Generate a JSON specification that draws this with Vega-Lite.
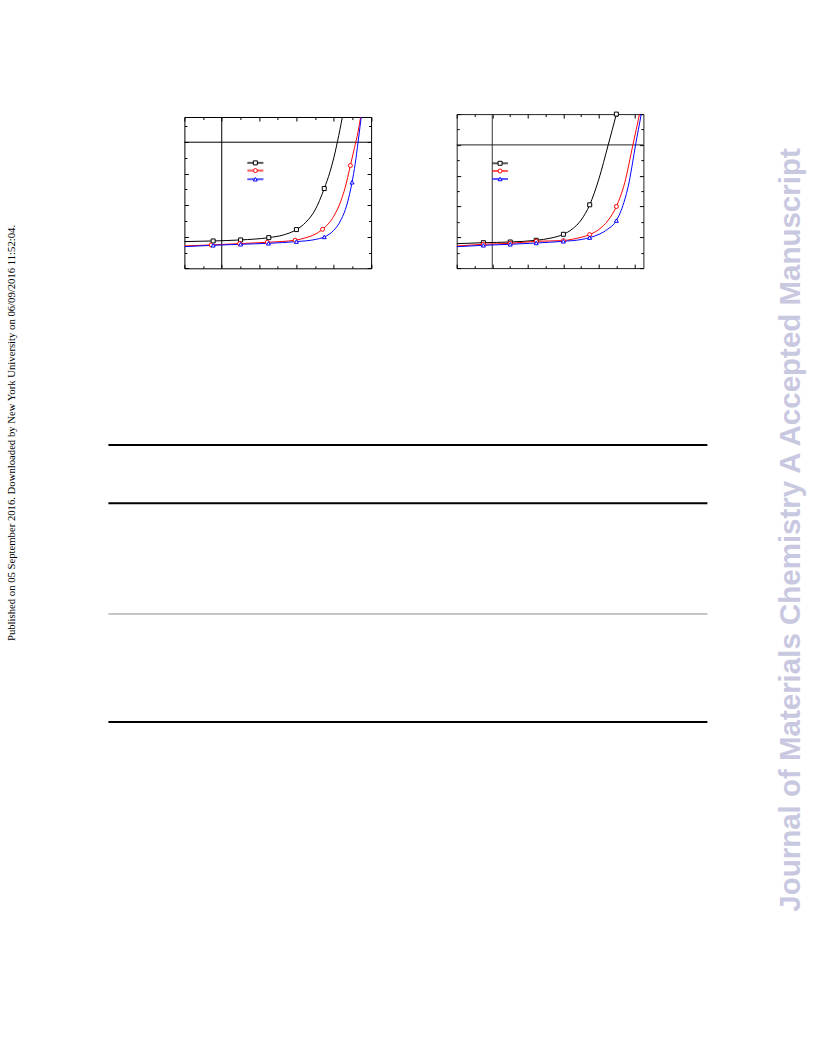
{
  "$schema": "https://vega.github.io/schema/vega-lite/v6.json",
  "background": "white",
  "padding": {"left": 0, "top": 109.1, "right": 0, "bottom": 0},
  "config": {"view": {"stroke": null}},
  "datasets": {
    "p1_curves": [
      {"series": "a", "v": -0.2, "j": -12.61}, {"series": "a", "v": -0.046, "j": -12.53}, {"series": "a", "v": 0.101, "j": -12.40}, {"series": "a", "v": 0.252, "j": -12.11}, {"series": "a", "v": 0.33, "j": -11.77}, {"series": "a", "v": 0.4, "j": -11.09}, {"series": "a", "v": 0.45, "j": -10.17}, {"series": "a", "v": 0.5, "j": -8.6}, {"series": "a", "v": 0.549, "j": -5.88}, {"series": "a", "v": 0.58, "j": -3.74}, {"series": "a", "v": 0.6, "j": -2.0}, {"series": "a", "v": 0.62, "j": 0.1}, {"series": "a", "v": 0.646, "j": 3.2}, {"series": "a", "v": 0.66, "j": 5.1},
      {"series": "b", "v": -0.2, "j": -13.16}, {"series": "b", "v": -0.057, "j": -13.04}, {"series": "b", "v": 0.096, "j": -12.87}, {"series": "b", "v": 0.244, "j": -12.70}, {"series": "b", "v": 0.393, "j": -12.44}, {"series": "b", "v": 0.45, "j": -12.12}, {"series": "b", "v": 0.5, "j": -11.68}, {"series": "b", "v": 0.54, "j": -11.05}, {"series": "b", "v": 0.6, "j": -9.39}, {"series": "b", "v": 0.64, "j": -7.34}, {"series": "b", "v": 0.66, "j": -5.85}, {"series": "b", "v": 0.689, "j": -2.96}, {"series": "b", "v": 0.71, "j": -0.8}, {"series": "b", "v": 0.73, "j": 1.3}, {"series": "b", "v": 0.744, "j": 3.2}, {"series": "b", "v": 0.76, "j": 5.6},
      {"series": "c", "v": -0.2, "j": -13.25}, {"series": "c", "v": -0.046, "j": -13.08}, {"series": "c", "v": 0.101, "j": -12.95}, {"series": "c", "v": 0.25, "j": -12.83}, {"series": "c", "v": 0.4, "j": -12.61}, {"series": "c", "v": 0.5, "j": -12.35}, {"series": "c", "v": 0.549, "j": -12.02}, {"series": "c", "v": 0.6, "j": -11.18}, {"series": "c", "v": 0.64, "j": -9.8}, {"series": "c", "v": 0.67, "j": -7.96}, {"series": "c", "v": 0.698, "j": -5.08}, {"series": "c", "v": 0.715, "j": -2.7}, {"series": "c", "v": 0.73, "j": 0.0}, {"series": "c", "v": 0.74, "j": 1.85}, {"series": "c", "v": 0.75, "j": 3.75}, {"series": "c", "v": 0.77, "j": 7.7}
    ],
    "p1_markers": [
      {"series": "a", "v": -0.046, "j": -12.53}, {"series": "a", "v": 0.101, "j": -12.40}, {"series": "a", "v": 0.252, "j": -12.11}, {"series": "a", "v": 0.4, "j": -11.09}, {"series": "a", "v": 0.549, "j": -5.88},
      {"series": "b", "v": -0.057, "j": -13.04}, {"series": "b", "v": 0.096, "j": -12.87}, {"series": "b", "v": 0.244, "j": -12.70}, {"series": "b", "v": 0.393, "j": -12.44}, {"series": "b", "v": 0.54, "j": -11.05}, {"series": "b", "v": 0.689, "j": -2.96},
      {"series": "c", "v": -0.046, "j": -13.08}, {"series": "c", "v": 0.101, "j": -12.95}, {"series": "c", "v": 0.25, "j": -12.83}, {"series": "c", "v": 0.4, "j": -12.61}, {"series": "c", "v": 0.549, "j": -12.02}, {"series": "c", "v": 0.698, "j": -5.08}
    ],
    "p1_legend_lines": [
      {"series": "a", "v": 0.137, "j": -2.62}, {"series": "a", "v": 0.223, "j": -2.62},
      {"series": "b", "v": 0.137, "j": -3.60}, {"series": "b", "v": 0.223, "j": -3.60},
      {"series": "c", "v": 0.137, "j": -4.70}, {"series": "c", "v": 0.223, "j": -4.70}
    ],
    "p1_legend_marks": [
      {"series": "a", "v": 0.18, "j": -2.62}, {"series": "b", "v": 0.18, "j": -3.60}, {"series": "c", "v": 0.18, "j": -4.70}
    ],
    "p2_curves": [
      {"series": "a", "v": -0.2, "j": -12.83}, {"series": "a", "v": -0.05, "j": -12.70}, {"series": "a", "v": 0.101, "j": -12.61}, {"series": "a", "v": 0.247, "j": -12.39}, {"series": "a", "v": 0.33, "j": -12.1}, {"series": "a", "v": 0.4, "j": -11.61}, {"series": "a", "v": 0.45, "j": -10.93}, {"series": "a", "v": 0.5, "j": -9.75}, {"series": "a", "v": 0.548, "j": -7.78}, {"series": "a", "v": 0.6, "j": -4.4}, {"series": "a", "v": 0.652, "j": 0.0}, {"series": "a", "v": 0.698, "j": 4.0}, {"series": "a", "v": 0.718, "j": 5.8},
      {"series": "b", "v": -0.2, "j": -13.13}, {"series": "b", "v": -0.05, "j": -12.91}, {"series": "b", "v": 0.101, "j": -12.78}, {"series": "b", "v": 0.247, "j": -12.52}, {"series": "b", "v": 0.4, "j": -12.43}, {"series": "b", "v": 0.45, "j": -12.25}, {"series": "b", "v": 0.5, "j": -12.0}, {"series": "b", "v": 0.548, "j": -11.65}, {"series": "b", "v": 0.6, "j": -10.98}, {"series": "b", "v": 0.65, "j": -9.85}, {"series": "b", "v": 0.698, "j": -8.0}, {"series": "b", "v": 0.745, "j": -4.9}, {"series": "b", "v": 0.791, "j": 0.0}, {"series": "b", "v": 0.828, "j": 4.0}, {"series": "b", "v": 0.85, "j": 6.5},
      {"series": "c", "v": -0.2, "j": -13.22}, {"series": "c", "v": -0.05, "j": -13.04}, {"series": "c", "v": 0.101, "j": -12.91}, {"series": "c", "v": 0.247, "j": -12.74}, {"series": "c", "v": 0.4, "j": -12.52}, {"series": "c", "v": 0.5, "j": -12.29}, {"series": "c", "v": 0.548, "j": -12.04}, {"series": "c", "v": 0.6, "j": -11.62}, {"series": "c", "v": 0.65, "j": -10.93}, {"series": "c", "v": 0.698, "j": -9.83}, {"series": "c", "v": 0.74, "j": -7.5}, {"series": "c", "v": 0.77, "j": -4.8}, {"series": "c", "v": 0.79, "j": -2.2}, {"series": "c", "v": 0.806, "j": 0.0}, {"series": "c", "v": 0.838, "j": 4.0}, {"series": "c", "v": 0.86, "j": 6.9}
    ],
    "p2_markers": [
      {"series": "a", "v": -0.05, "j": -12.70}, {"series": "a", "v": 0.101, "j": -12.61}, {"series": "a", "v": 0.247, "j": -12.39}, {"series": "a", "v": 0.4, "j": -11.61}, {"series": "a", "v": 0.548, "j": -7.78}, {"series": "a", "v": 0.698, "j": 4.0},
      {"series": "b", "v": -0.05, "j": -12.91}, {"series": "b", "v": 0.101, "j": -12.78}, {"series": "b", "v": 0.247, "j": -12.52}, {"series": "b", "v": 0.4, "j": -12.43}, {"series": "b", "v": 0.548, "j": -11.65}, {"series": "b", "v": 0.698, "j": -8.0},
      {"series": "c", "v": -0.05, "j": -13.04}, {"series": "c", "v": 0.101, "j": -12.91}, {"series": "c", "v": 0.247, "j": -12.74}, {"series": "c", "v": 0.4, "j": -12.52}, {"series": "c", "v": 0.548, "j": -12.04}, {"series": "c", "v": 0.698, "j": -9.83}
    ],
    "p2_legend_lines": [
      {"series": "a", "v": 0.001, "j": -2.39}, {"series": "a", "v": 0.088, "j": -2.39},
      {"series": "b", "v": 0.001, "j": -3.39}, {"series": "b", "v": 0.088, "j": -3.39},
      {"series": "c", "v": 0.001, "j": -4.43}, {"series": "c", "v": 0.088, "j": -4.43}
    ],
    "p2_legend_marks": [
      {"series": "a", "v": 0.044, "j": -2.39}, {"series": "b", "v": 0.044, "j": -3.39}, {"series": "c", "v": 0.044, "j": -4.43}
    ],
    "table_rules": [
      {"row": 0, "kind": "heavy"}, {"row": 2.1, "kind": "heavy"}, {"row": 6.1, "kind": "light"}, {"row": 10, "kind": "heavy"}
    ]
  },
  "spacing": 62.5,
  "hconcat": [
    {
      "spacing": 83.4,
      "hconcat": [
        {
          "width": 23.6,
          "height": 637.8,
          "data": {"values": [{"label": "Published on 05 September 2016. Downloaded by New York University on 06/09/2016 11:52:04."}]},
          "mark": {"type": "text", "angle": 270, "align": "center", "baseline": "middle", "font": "Liberation Serif", "fontSize": 10.7, "color": "#000000"},
          "encoding": {"text": {"field": "label", "type": "nominal"}}
        },
        {
          "spacing": 173.9,
          "vconcat": [
            {
              "spacing": 0,
              "hconcat": [
                {"width": 74.1, "height": 1, "data": {"values": []}, "mark": {"type": "point"}},
                {
                  "spacing": 83.3,
                  "hconcat": [
                    {
                      "spacing": 0.9,
                      "vconcat": [
                        {"width": 186.7, "height": 1, "data": {"values": []}, "mark": {"type": "point"}},
                        {
                          "width": 186.7,
                          "height": 151.3,
                          "view": {"stroke": "#000000", "strokeWidth": 1},
                          "resolve": {"axis": {"x": "independent", "y": "independent"}},
                          "layer": [
                            {
                              "data": {"values": [{}]},
                              "mark": {"type": "rule", "color": "#000000", "strokeWidth": 1},
                              "encoding": {"x": {"datum": 0, "type": "quantitative", "scale": {"domain": [-0.2, 0.8], "nice": false, "zero": false}, "axis": null}}
                            },
                            {
                              "data": {"values": [{}]},
                              "mark": {"type": "rule", "color": "#000000", "strokeWidth": 1},
                              "encoding": {"y": {"datum": 0, "type": "quantitative", "scale": {"domain": [-16, 3.2], "nice": false, "zero": false}, "axis": null}}
                            },
                            {
                              "data": {"name": "p1_curves"},
                              "mark": {"type": "line", "interpolate": "monotone", "strokeWidth": 1, "clip": true},
                              "encoding": {
                                "x": {"field": "v", "type": "quantitative", "scale": {"domain": [-0.2, 0.8], "nice": false, "zero": false},
                                      "axis": {"orient": "bottom", "values": [-0.2, -0.1, 0, 0.1, 0.2, 0.3, 0.4, 0.5, 0.6, 0.7, 0.8], "labels": false, "domain": false, "grid": false, "title": null, "tickColor": "#000000", "tickWidth": 1, "tickSize": {"condition": {"test": "abs(round(datum.value*10)) % 2 === 0", "value": -4}, "value": -2.5}}},
                                "y": {"field": "j", "type": "quantitative", "scale": {"domain": [-16, 3.2], "nice": false, "zero": false},
                                      "axis": {"orient": "left", "values": [-16, -14, -12, -10, -8, -6, -4, -2, 0, 2], "labels": false, "domain": false, "grid": false, "title": null, "tickColor": "#000000", "tickWidth": 1, "tickSize": {"condition": {"test": "datum.value % 4 === 0", "value": -4}, "value": -2.5}}},
                                "color": {"field": "series", "type": "nominal", "scale": {"domain": ["a", "b", "c"], "range": ["#000000", "#ff0000", "#0000ff"]}, "legend": null}
                              }
                            },
                            {
                              "data": {"name": "p1_legend_lines"},
                              "mark": {"type": "line", "strokeWidth": 2, "opacity": 0.65},
                              "encoding": {
                                "x": {"field": "v", "type": "quantitative", "scale": {"domain": [-0.2, 0.8], "nice": false, "zero": false}, "axis": null},
                                "y": {"field": "j", "type": "quantitative", "scale": {"domain": [-16, 3.2], "nice": false, "zero": false}, "axis": null},
                                "color": {"field": "series", "type": "nominal", "scale": {"domain": ["a", "b", "c"], "range": ["#000000", "#ff0000", "#0000ff"]}, "legend": null}
                              }
                            },
                            {
                              "data": {"name": "p1_markers"},
                              "mark": {"type": "point", "fill": "#ffffff", "filled": false, "opacity": 1, "strokeWidth": 1, "size": 16},
                              "encoding": {
                                "x": {"field": "v", "type": "quantitative", "scale": {"domain": [-0.2, 0.8], "nice": false, "zero": false},
                                      "axis": {"orient": "top", "values": [-0.2, -0.1, 0, 0.1, 0.2, 0.3, 0.4, 0.5, 0.6, 0.7, 0.8], "labels": false, "domain": false, "grid": false, "title": null, "tickColor": "#000000", "tickWidth": 1, "tickSize": {"condition": {"test": "abs(round(datum.value*10)) % 2 === 0", "value": -4}, "value": -2.5}}},
                                "y": {"field": "j", "type": "quantitative", "scale": {"domain": [-16, 3.2], "nice": false, "zero": false},
                                      "axis": {"orient": "right", "values": [-16, -14, -12, -10, -8, -6, -4, -2, 0, 2], "labels": false, "domain": false, "grid": false, "title": null, "tickColor": "#000000", "tickWidth": 1, "tickSize": {"condition": {"test": "datum.value % 4 === 0", "value": -4}, "value": -2.5}}},
                                "color": {"field": "series", "type": "nominal", "scale": {"domain": ["a", "b", "c"], "range": ["#000000", "#ff0000", "#0000ff"]}, "legend": null},
                                "shape": {"field": "series", "type": "nominal", "scale": {"domain": ["a", "b", "c"], "range": ["square", "circle", "triangle-up"]}, "legend": null}
                              }
                            },
                            {
                              "data": {"name": "p1_legend_marks"},
                              "mark": {"type": "point", "fill": "#ffffff", "filled": false, "opacity": 1, "strokeWidth": 1, "size": 16},
                              "encoding": {
                                "x": {"field": "v", "type": "quantitative", "scale": {"domain": [-0.2, 0.8], "nice": false, "zero": false}, "axis": null},
                                "y": {"field": "j", "type": "quantitative", "scale": {"domain": [-16, 3.2], "nice": false, "zero": false}, "axis": null},
                                "color": {"field": "series", "type": "nominal", "scale": {"domain": ["a", "b", "c"], "range": ["#000000", "#ff0000", "#0000ff"]}, "legend": null},
                                "shape": {"field": "series", "type": "nominal", "scale": {"domain": ["a", "b", "c"], "range": ["square", "circle", "triangle-up"]}, "legend": null}
                              }
                            }
                          ]
                        }
                      ]
                    },
                    {
                      "width": 186.7,
                      "height": 154,
                      "view": {"stroke": "#222222", "strokeWidth": 1},
                      "resolve": {"axis": {"x": "independent", "y": "independent"}},
                      "layer": [
                        {
                          "data": {"values": [{}]},
                          "mark": {"type": "rule", "color": "#333333", "strokeWidth": 1},
                          "encoding": {"x": {"datum": 0, "type": "quantitative", "scale": {"domain": [-0.2, 0.85], "nice": false, "zero": false}, "axis": null}}
                        },
                        {
                          "data": {"values": [{}]},
                          "mark": {"type": "rule", "color": "#222222", "strokeWidth": 1},
                          "encoding": {"y": {"datum": 0, "type": "quantitative", "scale": {"domain": [-16, 4], "nice": false, "zero": false}, "axis": null}}
                        },
                        {
                          "data": {"name": "p2_curves"},
                          "mark": {"type": "line", "interpolate": "monotone", "strokeWidth": 1, "clip": true},
                          "encoding": {
                            "x": {"field": "v", "type": "quantitative", "scale": {"domain": [-0.2, 0.85], "nice": false, "zero": false},
                                  "axis": {"orient": "bottom", "values": [-0.2, -0.1, 0, 0.1, 0.2, 0.3, 0.4, 0.5, 0.6, 0.7, 0.8], "labels": false, "domain": false, "grid": false, "title": null, "tickColor": "#000000", "tickWidth": 1, "tickSize": {"condition": {"test": "abs(round(datum.value*10)) % 2 === 0", "value": -4}, "value": -2.5}}},
                            "y": {"field": "j", "type": "quantitative", "scale": {"domain": [-16, 4], "nice": false, "zero": false},
                                  "axis": {"orient": "left", "values": [-16, -14, -12, -10, -8, -6, -4, -2, 0, 2, 4], "labels": false, "domain": false, "grid": false, "title": null, "tickColor": "#000000", "tickWidth": 1, "tickSize": {"condition": {"test": "datum.value % 4 === 0", "value": -4}, "value": -2.5}}},
                            "color": {"field": "series", "type": "nominal", "scale": {"domain": ["a", "b", "c"], "range": ["#000000", "#ff0000", "#0000ff"]}, "legend": null}
                          }
                        },
                        {
                          "data": {"name": "p2_legend_lines"},
                          "mark": {"type": "line", "strokeWidth": 2, "opacity": 0.65},
                          "encoding": {
                            "x": {"field": "v", "type": "quantitative", "scale": {"domain": [-0.2, 0.85], "nice": false, "zero": false}, "axis": null},
                            "y": {"field": "j", "type": "quantitative", "scale": {"domain": [-16, 4], "nice": false, "zero": false}, "axis": null},
                            "color": {"field": "series", "type": "nominal", "scale": {"domain": ["a", "b", "c"], "range": ["#000000", "#ff0000", "#0000ff"]}, "legend": null}
                          }
                        },
                        {
                          "data": {"name": "p2_markers"},
                          "mark": {"type": "point", "fill": "#ffffff", "filled": false, "opacity": 1, "strokeWidth": 1, "size": 16},
                          "encoding": {
                            "x": {"field": "v", "type": "quantitative", "scale": {"domain": [-0.2, 0.85], "nice": false, "zero": false},
                                  "axis": {"orient": "top", "values": [-0.2, -0.1, 0, 0.1, 0.2, 0.3, 0.4, 0.5, 0.6, 0.7, 0.8], "labels": false, "domain": false, "grid": false, "title": null, "tickColor": "#000000", "tickWidth": 1, "tickSize": {"condition": {"test": "abs(round(datum.value*10)) % 2 === 0", "value": -4}, "value": -2.5}}},
                            "y": {"field": "j", "type": "quantitative", "scale": {"domain": [-16, 4], "nice": false, "zero": false},
                                  "axis": {"orient": "right", "values": [-16, -14, -12, -10, -8, -6, -4, -2, 0, 2, 4], "labels": false, "domain": false, "grid": false, "title": null, "tickColor": "#000000", "tickWidth": 1, "tickSize": {"condition": {"test": "datum.value % 4 === 0", "value": -4}, "value": -2.5}}},
                            "color": {"field": "series", "type": "nominal", "scale": {"domain": ["a", "b", "c"], "range": ["#000000", "#ff0000", "#0000ff"]}, "legend": null},
                            "shape": {"field": "series", "type": "nominal", "scale": {"domain": ["a", "b", "c"], "range": ["square", "circle", "triangle-up"]}, "legend": null}
                          }
                        },
                        {
                          "data": {"name": "p2_legend_marks"},
                          "mark": {"type": "point", "fill": "#ffffff", "filled": false, "opacity": 1, "strokeWidth": 1, "size": 16},
                          "encoding": {
                            "x": {"field": "v", "type": "quantitative", "scale": {"domain": [-0.2, 0.85], "nice": false, "zero": false}, "axis": null},
                            "y": {"field": "j", "type": "quantitative", "scale": {"domain": [-16, 4], "nice": false, "zero": false}, "axis": null},
                            "color": {"field": "series", "type": "nominal", "scale": {"domain": ["a", "b", "c"], "range": ["#000000", "#ff0000", "#0000ff"]}, "legend": null},
                            "shape": {"field": "series", "type": "nominal", "scale": {"domain": ["a", "b", "c"], "range": ["square", "circle", "triangle-up"]}, "legend": null}
                          }
                        }
                      ]
                    }
                  ]
                }
              ]
            },
            {
              "width": 599,
              "height": 277,
              "data": {"name": "table_rules"},
              "mark": {"type": "rule"},
              "encoding": {
                "y": {"field": "row", "type": "quantitative", "scale": {"domain": [0, 10], "reverse": true, "nice": false, "zero": false}, "axis": null},
                "color": {"condition": {"test": "datum.kind === 'light'", "value": "#8c8c8c"}, "value": "#000000"},
                "strokeWidth": {"condition": {"test": "datum.kind === 'light'", "value": 1}, "value": 2}
              }
            }
          ]
        }
      ]
    },
    {
      "width": 40,
      "height": 831.8,
      "data": {"values": [{"label": "Journal of Materials Chemistry A Accepted Manuscript"}]},
      "mark": {"type": "text", "angle": 270, "align": "center", "baseline": "middle", "font": "Liberation Sans", "fontWeight": "bold", "fontSize": 29.5, "color": "#c8c8e1"},
      "encoding": {"text": {"field": "label", "type": "nominal"}}
    }
  ]
}
